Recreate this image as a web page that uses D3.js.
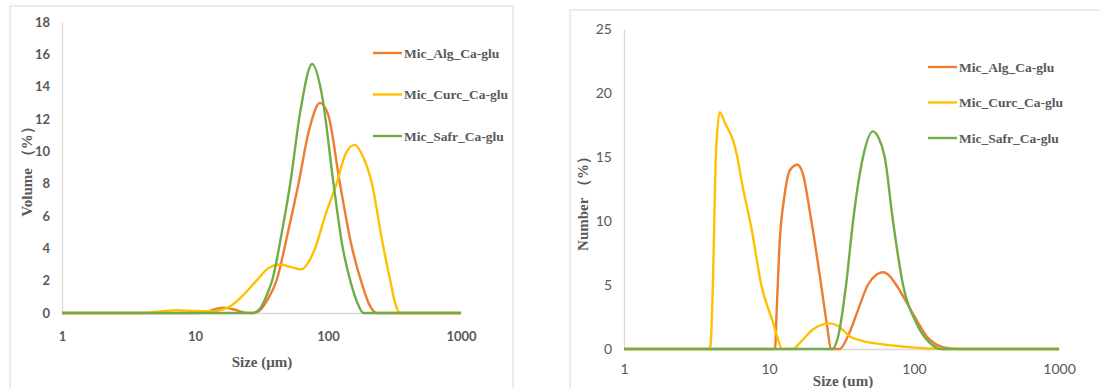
<!DOCTYPE html>
<html>
<head>
<meta charset="utf-8">
<script src="https://cdn.jsdelivr.net/npm/d3@7"></script>
<style>
  body { margin: 0; background: #fff; }
  svg { display: block; }
</style>
</head>
<body>
<svg id="chart" width="1100" height="388"></svg>
<script>
// Données : [taille (µm), valeur (%)]
const seriesNames = ["Mic_Alg_Ca-glu", "Mic_Curc_Ca-glu", "Mic_Safr_Ca-glu"];
const seriesColors = ["#ED7D31", "#FFC000", "#70AD47"];
const xTicks = [1, 10, 100, 1000];

const volumeAlg = [[1,0],[10,0],[12,0.05],[14,0.22],[16.3,0.33],[20,0.2],[24,0.02],[27,0],[30,0.1],[35,0.8],[41,2],[50,5],[60,8],[72,11.3],[87,13],[100,12.3],[123,8],[150,4.2],[180,1.8],[205,0.5],[233,0],[1000,0]];
const volumeCurc = [[1,0],[4,0],[5.5,0.1],[7.3,0.18],[10,0.12],[13,0.1],[15,0.15],[18.3,0.4],[23,1.1],[29,2],[36,2.8],[43.6,3.0],[52,2.85],[63,2.7],[72,3.2],[80,4],[95,6],[116,8],[135,9.8],[158,10.4],[185,9.6],[214,8],[255,4.5],[294,2],[320,0.6],[349,0],[1000,0]];
const volumeSafr = [[1,0],[27,0],[31,0.3],[35,1.2],[38,2],[45,5],[52,8],[62,12.5],[76,15.4],[90,13.5],[110,8],[128,4.2],[147,2],[165,0.7],[185,0],[1000,0]];
const volumeYTicks = [0,2,4,6,8,10,12,14,16,18];

const numberAlg = [[1,0],[11,0],[11.3,3],[11.8,8],[12.8,12],[14,14],[15.7,14.4],[17,13.8],[19.6,10],[22.9,5],[25,2],[26.9,0],[30.7,0],[35,1],[41,3],[48,5],[55,5.8],[61,6],[68,5.7],[75.5,5],[95.6,3],[110,1.8],[122,1],[140,0.4],[158,0.15],[206,0],[1000,0]];
const numberCurc = [[1,0],[3.85,0],[3.95,0.3],[4.1,5],[4.3,15],[4.57,18.5],[5,17.6],[5.65,16.3],[6.05,15],[6.5,13],[7.55,9.5],[8.85,5],[10.7,2],[11.5,0.8],[12.3,0],[14.6,0],[17,0.7],[20,1.5],[25.9,2.0],[30,1.8],[36,1.0],[45,0.6],[58,0.4],[75,0.25],[93,0.15],[122,0.05],[150,0],[1000,0]];
const numberSafr = [[1,0],[27.3,0],[30,1],[34,5],[38,10],[44.5,15],[52,17],[57,16.5],[62.8,15],[71.6,10],[84,5],[104,2],[128,0.5],[154,0],[1000,0]];
const numberYTicks = [0,5,10,15,20,25];

const svg = d3.select("#chart");

// Fonction de dessin d'un panneau
function drawPanel(cfg) {
  const g = svg.append("g");

  // cadre du panneau
  g.append("rect")
    .attr("x", cfg.frame[0]).attr("y", cfg.frame[1])
    .attr("width", cfg.frame[2]).attr("height", cfg.frame[3])
    .attr("fill", "#fff").attr("stroke", "#d9d9d9").attr("stroke-width", 1);

  const x = d3.scaleLog().domain([1, 1000]).range([cfg.x0, cfg.x1]);
  const y = d3.scaleLinear().domain([0, d3.max(cfg.yTicks)]).range([cfg.y0, cfg.y1]);

  // axes
  const xAxis = g.append("g")
    .attr("transform", `translate(0,${cfg.y0})`)
    .call(d3.axisBottom(x).tickValues(xTicks).tickFormat(d3.format("d")).tickSize(0).tickPadding(cfg.xPad));
  const yAxis = g.append("g")
    .attr("transform", `translate(${cfg.x0},0)`)
    .call(d3.axisLeft(y).tickValues(cfg.yTicks).tickSize(0).tickPadding(12));

  [xAxis, yAxis].forEach(a => {
    a.select(".domain").attr("stroke", "#d9d9d9").attr("stroke-width", 1.3);
    a.selectAll("text")
      .attr("fill", "#595959")
      .style("font-family", "Lato, 'Open Sans', sans-serif")
      .style("font-size", cfg.tickSize + "px")
      .style("font-weight", cfg.tickWeight);
  });

  // courbes
  const line = d3.line()
    .x(d => x(d[0]))
    .y(d => y(d[1]))
    .curve(d3.curveMonotoneX);

  cfg.series.forEach((s, i) => {
    g.append("path")
      .datum(s)
      .attr("fill", "none")
      .attr("stroke", seriesColors[i])
      .attr("stroke-width", 2.4)
      .attr("stroke-linejoin", "round")
      .attr("d", line);
  });

  // titres des axes
  g.append("text")
    .attr("transform", `translate(${cfg.yTitlePos[0]},${cfg.yTitlePos[1]}) rotate(-90)`)
    .attr("text-anchor", "middle")
    .attr("dy", "0.35em")
    .attr("fill", "#595959")
    .style("font-family", "'Liberation Serif', 'Times New Roman', serif")
    .style("font-weight", "bold")
    .style("font-size", "15px")
    .text(cfg.yTitle);

  g.append("text")
    .attr("x", cfg.xTitlePos[0]).attr("y", cfg.xTitlePos[1])
    .attr("text-anchor", "middle")
    .attr("dy", "0.35em")
    .attr("fill", "#595959")
    .style("font-family", "'Liberation Serif', 'Times New Roman', serif")
    .style("font-weight", "bold")
    .style("font-size", "15px")
    .text(cfg.xTitle);

  // légende
  seriesNames.forEach((name, i) => {
    const ly = cfg.legend[1] + i * cfg.legendStep;
    g.append("line")
      .attr("x1", cfg.legend[0]).attr("x2", cfg.legend[0] + 29)
      .attr("y1", ly).attr("y2", ly)
      .attr("stroke", seriesColors[i]).attr("stroke-width", 2.4);
    g.append("text")
      .attr("x", cfg.legend[0] + 31).attr("y", ly)
      .attr("dy", "0.35em")
      .attr("fill", "#595959")
      .style("font-family", "'Liberation Serif', 'Times New Roman', serif")
      .style("font-weight", "bold")
      .style("font-size", "13.5px")
      .text(name);
  });
}

drawPanel({
  frame: [10, 6, 503, 400],
  x0: 62, x1: 461, y0: 313, y1: 22,
  yTicks: volumeYTicks,
  series: [volumeAlg, volumeCurc, volumeSafr],
  xPad: 19, tickSize: 13, tickWeight: "bold",
  yTitle: "Volume （%）", yTitlePos: [27, 168],
  xTitle: "Size (µm)", xTitlePos: [262, 362],
  legend: [373, 53], legendStep: 41.5
});

drawPanel({
  frame: [570, 10, 540, 400],
  x0: 624, x1: 1059, y0: 349, y1: 29,
  yTicks: numberYTicks,
  series: [numberAlg, numberCurc, numberSafr],
  xPad: 15, tickSize: 14, tickWeight: "normal",
  yTitle: "Number （%）", yTitlePos: [583, 200],
  xTitle: "Size (um)", xTitlePos: [843, 381],
  legend: [928, 67], legendStep: 35.5
});
</script>
</body>
</html>
